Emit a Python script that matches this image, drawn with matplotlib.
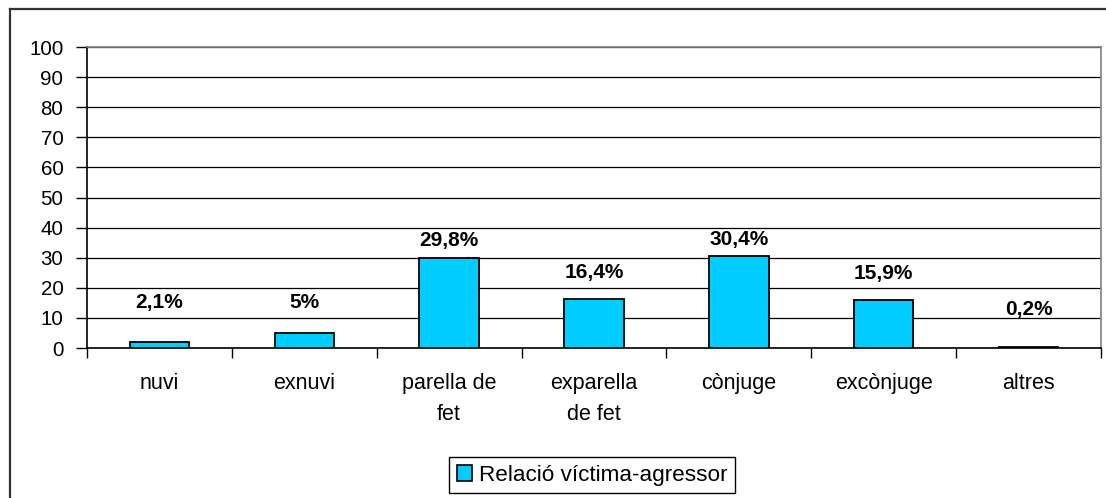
import matplotlib
matplotlib.use("Agg")
import matplotlib.pyplot as plt
from matplotlib.patches import Patch
from matplotlib.lines import Line2D
import numpy as np

categories = ["nuvi", "exnuvi", "parella de\nfet", "exparella\nde fet", "cònjuge", "excònjuge", "altres"]
values = [2.1, 5.0, 29.8, 16.4, 30.4, 15.9, 0.2]
value_labels = ["2,1%", "5%", "29,8%", "16,4%", "30,4%", "15,9%", "0,2%"]
series_name = "Relació víctima-agressor"
yticks = [0, 10, 20, 30, 40, 50, 60, 70, 80, 90, 100]

# style: label offset above bar top (pixels)
label_offsets_px = [39, 30, 18, 26, 17, 27, 38]

plt.rcParams['font.family'] = ['Liberation Sans', 'DejaVu Sans']

W, H = 1106, 498
fig = plt.figure(figsize=(W / 100, H / 100), dpi=100)
ax = fig.add_axes([87 / W, 1 - 348 / H, (1101 - 87) / W, (348 - 47) / H])

x = np.arange(len(categories))
bars = ax.bar(x, values, width=0.41, color="#00CCFF", edgecolor="black", linewidth=1.3, zorder=3)

ax.set_xlim(-0.5, len(categories) - 0.5)
ax.set_ylim(0, 100)
ax.set_yticks(yticks)
ax.set_yticklabels([str(t) for t in yticks], fontsize=14.8)
ax.yaxis.grid(True, color="black", linewidth=0.9, zorder=0)
ax.set_axisbelow(True)

ax.set_xticks(np.arange(len(categories) + 1) - 0.5)
ax.set_xticklabels([])
ax.set_xticks(x, minor=True)
ax.set_xticklabels(categories, minor=True, fontsize=15.5, linespacing=1.62, va="top")
ax.tick_params(axis="x", which="major", length=7, width=1, color="black", direction="out")
ax.tick_params(axis="x", which="minor", length=0, pad=18)
ax.tick_params(axis="y", length=8, width=1, color="black", direction="out", pad=9)

for side in ["top", "right"]:
    ax.spines[side].set_color("#808080")
    ax.spines[side].set_linewidth(1.2)
for side in ["left", "bottom"]:
    ax.spines[side].set_color("black")
    ax.spines[side].set_linewidth(1.2)

for xi, v, lab, off in zip(x, values, value_labels, label_offsets_px):
    ax.annotate(lab, (xi, v), xytext=(0, off * 72 / 100), textcoords="offset points",
                ha="center", va="center", fontsize=15, fontweight="bold", zorder=4)

handle = Patch(facecolor="#00CCFF", edgecolor="black", linewidth=1.2)
leg = fig.legend([handle], [series_name], loc="center",
                 bbox_to_anchor=(592 / W, 1 - 475 / H), fontsize=16.2,
                 frameon=True, fancybox=False, edgecolor="black", framealpha=1,
                 handlelength=0.7, handleheight=0.7, handletextpad=0.3,
                 borderpad=0.35, borderaxespad=0)
leg.get_frame().set_linewidth(1.0)

# outer chart border (left and top visible)
fig.add_artist(Line2D([9.5 / W, 9.5 / W], [0, 1 - 9.5 / H], transform=fig.transFigure,
                      color="#333333", linewidth=1.6))
fig.add_artist(Line2D([9.5 / W, 1], [1 - 9.5 / H, 1 - 9.5 / H], transform=fig.transFigure,
                      color="#333333", linewidth=1.6))

fig.savefig("out.png", dpi=100)
